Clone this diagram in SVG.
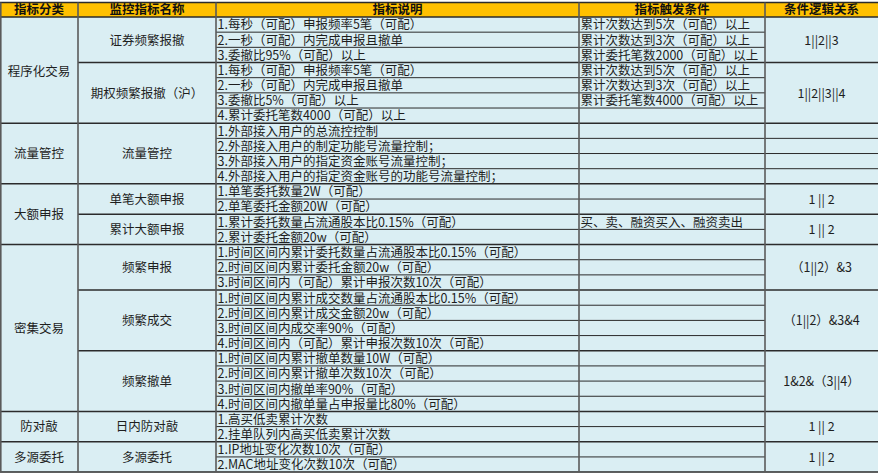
<svg xmlns="http://www.w3.org/2000/svg" width="878" height="475" viewBox="0 0 878 475">
<style>
text { font-family: "Noto Sans CJK SC", "Noto Sans", sans-serif; font-size: 12.5px; fill: #1e1e1e; }
.h { font-weight: bold; fill: #111; }
.c { text-anchor: middle; }
.g { stroke: #2b2b2b; stroke-width: 1.5; fill: none; }
.r { stroke: #2b2b2b; stroke-width: 1; fill: none; }
.v { stroke: #5a5a5a; stroke-width: 1.6; fill: none; }
</style>
<rect x="0" y="0" width="878" height="475" fill="#ffffff"/>
<rect x="0" y="2.5" width="878" height="14.5" fill="#FFC000"/>
<rect x="0" y="17" width="878" height="455.1" fill="#DAEEF3"/>

<g id="header">
<text class="h c" x="39" y="14.2">指标分类</text>
<text class="h c" x="147" y="14.2">监控指标名称</text>
<text class="h c" x="397.5" y="14.2">指标说明</text>
<text class="h c" x="672" y="14.2">指标触发条件</text>
<text class="h c" x="821.5" y="14.2">条件逻辑关系</text>
</g>

<g id="connectors">
<line class="g" x1="0" y1="2.5" x2="878" y2="2.5"/>
<line class="g" x1="0" y1="17" x2="878" y2="17"/>
<!-- row lines col3-col4 -->
<line class="r" x1="216" y1="32.17" x2="765" y2="32.17"/>
<line class="r" x1="216" y1="47.34" x2="765" y2="47.34"/>
<line class="r" x1="216" y1="77.68" x2="765" y2="77.68"/>
<line class="r" x1="216" y1="92.85" x2="765" y2="92.85"/>
<line class="r" x1="216" y1="108.02" x2="765" y2="108.02"/>
<line class="r" x1="216" y1="138.36" x2="878" y2="138.36"/>
<line class="r" x1="216" y1="153.53" x2="878" y2="153.53"/>
<line class="r" x1="216" y1="168.70" x2="878" y2="168.70"/>
<line class="r" x1="216" y1="199.04" x2="765" y2="199.04"/>
<line class="r" x1="216" y1="229.38" x2="765" y2="229.38"/>
<line class="r" x1="216" y1="259.72" x2="765" y2="259.72"/>
<line class="r" x1="216" y1="274.89" x2="765" y2="274.89"/>
<line class="r" x1="216" y1="305.23" x2="765" y2="305.23"/>
<line class="r" x1="216" y1="320.40" x2="765" y2="320.40"/>
<line class="r" x1="216" y1="335.57" x2="765" y2="335.57"/>
<line class="r" x1="216" y1="365.91" x2="765" y2="365.91"/>
<line class="r" x1="216" y1="381.08" x2="765" y2="381.08"/>
<line class="r" x1="216" y1="396.25" x2="765" y2="396.25"/>
<line class="r" x1="216" y1="426.59" x2="765" y2="426.59"/>
<line class="r" x1="216" y1="456.93" x2="765" y2="456.93"/>
<!-- sub-group lines col2-col5 -->
<line class="g" x1="78" y1="62.51" x2="878" y2="62.51"/>
<line class="g" x1="78" y1="214.21" x2="878" y2="214.21"/>
<line class="g" x1="78" y1="290.06" x2="878" y2="290.06"/>
<line class="g" x1="78" y1="350.74" x2="878" y2="350.74"/>
<!-- group lines full width -->
<line class="g" x1="0" y1="123.19" x2="878" y2="123.19"/>
<line class="g" x1="0" y1="183.87" x2="878" y2="183.87"/>
<line class="g" x1="0" y1="244.55" x2="878" y2="244.55"/>
<line class="g" x1="0" y1="411.42" x2="878" y2="411.42"/>
<line class="g" x1="0" y1="441.76" x2="878" y2="441.76"/>
<line class="g" x1="0" y1="472.1" x2="878" y2="472.1"/>
<!-- vertical lines -->
<line class="v" x1="0.8" y1="2.5" x2="0.8" y2="472.1"/>
<line class="v" x1="78" y1="2.5" x2="78" y2="472.1"/>
<line class="v" x1="216" y1="2.5" x2="216" y2="472.1"/>
<line class="v" x1="579" y1="2.5" x2="579" y2="472.1"/>
<line class="v" x1="765" y1="2.5" x2="765" y2="472.1"/>
</g>

<g id="programmatic">
<text class="c" x="39" y="75.5">程序化交易</text>
<text class="c" x="147" y="44.6">证券频繁报撤</text>
<text x="217.5" y="29.4">1.每秒（可配）申报频率5笔（可配）</text>
<text x="217.5" y="44.6">2.一秒（可配）内完成申报且撤单</text>
<text x="217.5" y="59.8">3.委撤比95%（可配）以上</text>
<text x="580.5" y="29.4">累计次数达到5次（可配）以上</text>
<text x="580.5" y="44.6">累计次数达到3次（可配）以上</text>
<text x="580.5" y="59.8">累计委托笔数2000（可配）以上</text>
<text class="c" x="821.5" y="44.6">1||2||3</text>
<text class="c" x="147" y="98">期权频繁报撤（沪）</text>
<text x="217.5" y="74.9">1.每秒（可配）申报频率5笔（可配）</text>
<text x="217.5" y="90.1">2.一秒（可配）内完成申报且撤单</text>
<text x="217.5" y="105.2">3.委撤比5%（可配）以上</text>
<text x="217.5" y="120.4">4.累计委托笔数4000（可配）以上</text>
<text x="580.5" y="74.9">累计次数达到5次（可配）以上</text>
<text x="580.5" y="90.1">累计次数达到3次（可配）以上</text>
<text x="580.5" y="105.2">累计委托笔数4000（可配）以上</text>
<text class="c" x="821.5" y="98">1||2||3||4</text>
</g>

<g id="flow-control">
<text class="c" x="39" y="158">流量管控</text>
<text class="c" x="147" y="158">流量管控</text>
<text x="217.5" y="135.6">1.外部接入用户的总流控控制</text>
<text x="217.5" y="150.8">2.外部接入用户的制定功能号流量控制；</text>
<text x="217.5" y="165.9">3.外部接入用户的指定资金账号流量控制；</text>
<text x="217.5" y="181.1">4.外部接入用户的指定资金账号的功能号流量控制；</text>
</g>

<g id="large-order">
<text class="c" x="39" y="219">大额申报</text>
<text class="c" x="147" y="203.6">单笔大额申报</text>
<text x="217.5" y="196.3">1.单笔委托数量2W（可配）</text>
<text x="217.5" y="211.4">2.单笔委托金额20W（可配）</text>
<text class="c" x="821.5" y="203.6">1 || 2</text>
<text class="c" x="147" y="234">累计大额申报</text>
<text x="217.5" y="226.6">1.累计委托数量占流通股本比0.15%（可配）</text>
<text x="217.5" y="241.8">2.累计委托金额20w（可配）</text>
<text x="580.5" y="226.6">买、卖、融资买入、融资卖出</text>
<text class="c" x="821.5" y="234">1 || 2</text>
</g>

<g id="intensive">
<text class="c" x="39" y="333">密集交易</text>
<text class="c" x="147" y="272">频繁申报</text>
<text x="217.5" y="257">1.时间区间内累计委托数量占流通股本比0.15%（可配）</text>
<text x="217.5" y="272.1">2.时间区间内累计委托金额20w（可配）</text>
<text x="217.5" y="287.3">3.时间区间内（可配）累计申报次数10次（可配）</text>
<text class="c" x="821.5" y="272">（1||2）&amp;3</text>
<text class="c" x="147" y="325">频繁成交</text>
<text x="217.5" y="302.5">1.时间区间内累计成交数量占流通股本比0.15%（可配）</text>
<text x="217.5" y="317.6">2.时间区间内累计成交金额20w（可配）</text>
<text x="217.5" y="332.8">3.时间区间内成交率90%（可配）</text>
<text x="217.5" y="348">4.时间区间内（可配）累计申报次数10次（可配）</text>
<text class="c" x="821.5" y="325">（1||2）&amp;3&amp;4</text>
<text class="c" x="147" y="385.7">频繁撤单</text>
<text x="217.5" y="363.1">1.时间区间内累计撤单数量10W（可配）</text>
<text x="217.5" y="378.3">2.时间区间内累计撤单次数10次（可配）</text>
<text x="217.5" y="393.5">3.时间区间内撤单率90%（可配）</text>
<text x="217.5" y="408.7">4.时间区间内撤单量占申报量比80%（可配）</text>
<text class="c" x="821.5" y="385.7">1&amp;2&amp;（3||4）</text>
</g>

<g id="anti-wash">
<text class="c" x="39" y="431.2">防对敲</text>
<text class="c" x="147" y="431.2">日内防对敲</text>
<text x="217.5" y="423.8">1.高买低卖累计次数</text>
<text x="217.5" y="439">2.挂单队列内高买低卖累计次数</text>
<text class="c" x="821.5" y="431.2">1 || 2</text>
</g>

<g id="multi-source">
<text class="c" x="39" y="461.5">多源委托</text>
<text class="c" x="147" y="461.5">多源委托</text>
<text x="217.5" y="454.2">1.IP地址变化次数10次（可配）</text>
<text x="217.5" y="469.3">2.MAC地址变化次数10次（可配）</text>
<text class="c" x="821.5" y="461.5">1 || 2</text>
</g>
</svg>
